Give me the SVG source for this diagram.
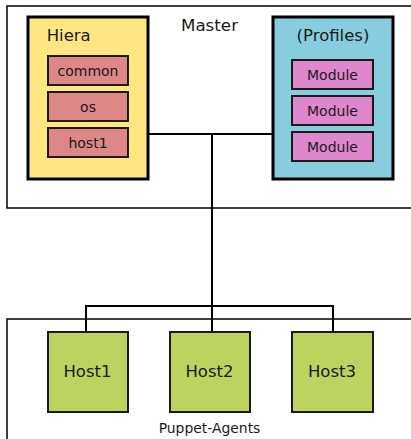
<svg xmlns="http://www.w3.org/2000/svg" width="411" height="439" viewBox="0 0 411 439">
<style>
text{font-family:"DejaVu Sans",sans-serif;fill:#1a1a1a;text-anchor:middle}
.big{stroke:#000;stroke-width:3}
.small{stroke:#1a1a1a;stroke-width:2}
.host{fill:#bcd35f;stroke:#1a1a1a;stroke-width:2}
.conn{fill:none;stroke:#000;stroke-width:2}
.in{font-size:14px}
.hn{font-size:16.5px}
</style>
<rect width="411" height="439" fill="#fff"/>
<g id="master">
<rect x="7" y="6" width="410" height="202" fill="#fff" stroke="#000" stroke-width="1.5"/>
<text x="209.5" y="31" font-size="16.7">Master</text>
</g>
<g id="puppet-agents">
<rect x="7" y="319" width="410" height="130" fill="#fff" stroke="#000" stroke-width="1.5"/>
<text x="209.5" y="432.5" font-size="13.9">Puppet-Agents</text>
</g>
<g id="connectors">
<polyline class="conn" points="148,134 272,134"/>
<polyline class="conn" points="212,134 212,332"/>
<polyline class="conn" points="86,332 86,306 333,306 333,332"/>
</g>
<g id="hiera">
<rect class="big" x="28" y="17" width="120" height="162" fill="#ffe680"/>
<text x="68.7" y="41" font-size="16.5">Hiera</text>
</g>
<g id="common"><rect class="small" x="48" y="56" width="80" height="29" fill="#de8787"/><text class="in" x="88" y="75.5">common</text></g>
<g id="os"><rect class="small" x="48" y="92" width="80" height="29" fill="#de8787"/><text class="in" x="88" y="111.5">os</text></g>
<g id="host1cfg"><rect class="small" x="48" y="128" width="80" height="29" fill="#de8787"/><text class="in" x="88" y="147.5">host1</text></g>
<g id="profiles">
<rect class="big" x="273" y="17" width="120" height="162" fill="#87cdde"/>
<text x="333" y="41" font-size="16.5">(Profiles)</text>
</g>
<g id="module1"><rect class="small" x="292" y="60" width="81" height="29" fill="#de87cd"/><text class="in" x="332.5" y="79.5">Module</text></g>
<g id="module2"><rect class="small" x="292" y="96" width="81" height="29" fill="#de87cd"/><text class="in" x="332.5" y="115.5">Module</text></g>
<g id="module3"><rect class="small" x="292" y="132" width="81" height="29" fill="#de87cd"/><text class="in" x="332.5" y="151.5">Module</text></g>
<g id="host1"><rect class="host" x="48" y="332" width="80" height="80"/><text class="hn" x="87.5" y="377">Host1</text></g>
<g id="host2"><rect class="host" x="170" y="332" width="80" height="80"/><text class="hn" x="209.5" y="377">Host2</text></g>
<g id="host3"><rect class="host" x="292" y="332" width="81" height="80"/><text class="hn" x="332" y="377">Host3</text></g>
</svg>
